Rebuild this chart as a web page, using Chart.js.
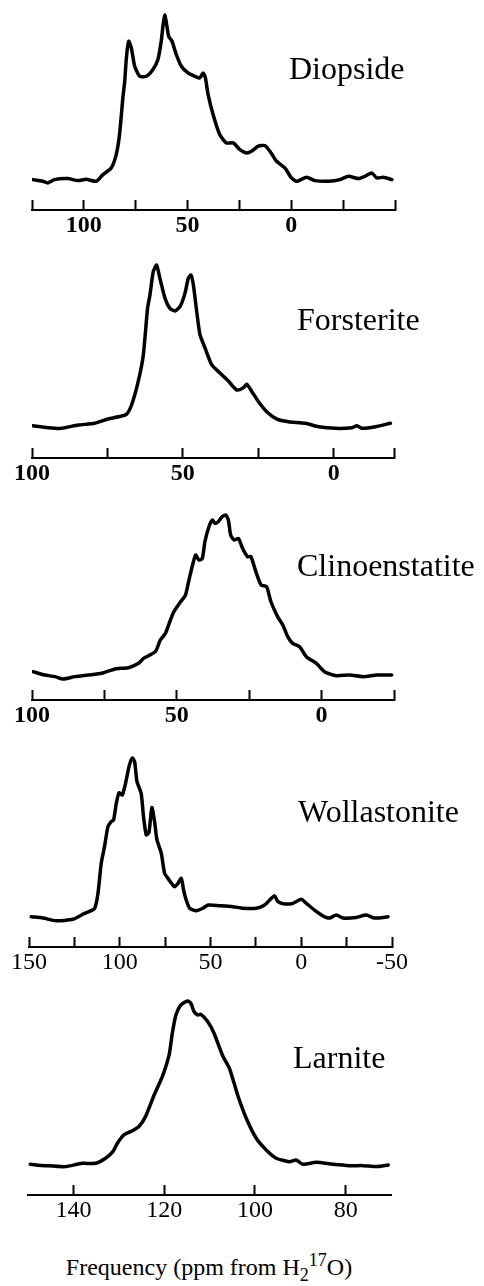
<!DOCTYPE html>
<html>
<head>
<meta charset="utf-8">
<script src="https://cdn.jsdelivr.net/npm/chart.js@4.4.0/dist/chart.umd.min.js"></script>
<style>
html,body{margin:0;padding:0;background:#fff}
#wrap{position:relative;width:484px;height:1286px;overflow:hidden}
#wrap canvas{position:absolute;left:0}
.name{position:absolute;font:32px/32px 'Liberation Serif','Times New Roman',serif;color:#000;white-space:nowrap}
#xtitle{position:absolute;left:0;width:418px;top:1255px;text-align:center;font:24px/24px 'Liberation Serif','Times New Roman',serif;color:#000;white-space:nowrap}
#xtitle .sb{font-size:18px;position:relative;top:6px}
#xtitle .sp{font-size:18px;position:relative;top:-9px}
</style>
</head>
<body>
<div id="wrap">
  <canvas id="c1"></canvas>
  <canvas id="c2"></canvas>
  <canvas id="c3"></canvas>
  <canvas id="c4"></canvas>
  <canvas id="c5"></canvas>
  <div class="name" style="left:289px;top:52px">Diopside</div>
  <div class="name" style="left:297px;top:303px">Forsterite</div>
  <div class="name" style="left:297px;top:549px">Clinoenstatite</div>
  <div class="name" style="left:298px;top:795px">Wollastonite</div>
  <div class="name" style="left:293px;top:1041px">Larnite</div>
  <div id="xtitle">Frequency (ppm from H<span class="sb">2</span><span class="sp">17</span>O)</div>
</div>
<script>
const SERIF="'Liberation Serif','Times New Roman',serif";

// ── 17O spectra: shift (ppm) and relative intensity (baseline 0, top peak 100) ──
const DIOPSIDE_PPM=[124.6,119.8,117.4,114.2,107.7,102.9,98.9,94,90.8,86.8,84.4,82.8,81.2,80.3,79.5,78.4,77.1,75.5,73.1,69.9,66.7,64.3,62.7,61.8,61,60.2,59.1,57.5,55.4,53,49.8,46.5,44.1,42.5,41.4,40.1,37.7,34.5,31.3,28,24.8,21.6,19.2,15.9,12.7,10.3,7.1,3.1,-0.1,-2.6,-7.4,-11.4,-17.9,-23.5,-27.5,-32.4,-35.6,-38.8,-41.2,-44.4,-48.5];
const DIOPSIDE_INT=[1.4,0.4,-0.6,1.4,2,0.8,1.6,0.4,4.4,8.4,16.4,28.4,50.3,60.3,74.3,84.3,80.2,69.3,63.3,63.3,67.4,73.4,84.3,94.2,100,95.2,87.2,84.3,76.2,69.3,65.3,63.3,62.3,65.3,62.3,52.3,40.4,28.4,23.4,23.4,19.4,17.4,18.4,21.4,21.8,18.4,12.4,8.4,2.4,0.4,2.8,0.8,0.4,1.4,3.4,2,3.4,5.4,2.4,2.8,1.4];

const FORSTERITE_PPM=[99.7,94.7,90.3,84.7,79.2,74.8,71.4,68.7,67,64.8,63.1,61.7,60.9,59.8,58.7,57.6,55.9,54.3,52.6,50.9,49.3,48.2,47.3,46.5,45.4,44.3,42.6,40.4,37.6,34.9,32.1,29.9,28.8,27.1,24.9,22.2,18.8,15,9.4,5,-0.6,-6.1,-7.7,-9.4,-13.9,-18.8];
const FORSTERITE_INT=[1.4,0.2,-0.2,1.8,2.9,5.5,6.9,8.4,14.1,28.4,44.8,73.4,81.6,95.9,100,91.8,79.6,73.4,71.8,74.6,82.6,91.8,93.9,87.7,71.4,57.1,48.9,38.7,33.6,28.8,23.3,24.7,26.8,22.3,16.1,10,5.5,3.9,2.9,0.8,-0.2,0.2,1.4,-0.2,0.8,2.9];

const CLINOENSTATITE_PPM=[99.7,95.6,92.1,89.2,85.2,80.6,75.9,71.3,66.7,63.2,61.5,57.4,55.7,53.9,52.2,51,48.7,47,45.8,44.7,43.5,42.4,41.2,40.3,38.9,37.7,36.8,35.7,34.3,33.1,32.2,31.4,30.2,28.7,27.3,25.6,24.4,22.7,20.9,19,17.5,15.2,13.4,11.7,10,7.6,5.3,1.8,-1,-5.1,-9.7,-14.3,-19,-24.2];
const CLINOENSTATITE_INT=[2.1,0,-1,-2.5,-1,0,1.1,3.8,4.6,7.3,10.4,14.6,21.9,26.1,34.4,39.6,45.8,50,59.4,67.7,75,71.9,72.9,83.3,92.7,96.9,94.8,95.8,99,100,96.9,87.5,84.4,85.4,79.2,74,74,64.6,56.3,55.2,45.8,36.5,31.3,24,19.8,17.7,11.5,7.3,2.1,-0.4,0,-1,0,0];

const WOLLASTONITE_PPM=[148.8,142.3,135,125.8,119.4,113.9,112,110.2,108.4,106.5,104.7,103.4,101.9,100.4,98.6,96.8,94.9,93.1,91.8,90.5,88.2,86.9,85.4,83.9,82.3,80.8,79.5,77.1,75.3,73.4,69.8,67.9,66.1,64.8,63.4,61.5,57.9,54.2,51.4,45,37.6,32.1,24.8,20.2,16.5,14.7,12.8,9.2,4.6,0,-2.8,-7.3,-12.8,-15.6,-19.3,-23,-30.3,-35.8,-40.4,-47.8];
const WOLLASTONITE_INT=[0.8,0,-1.7,-0.8,2.9,6,15.4,34.2,44.6,57.1,60.2,61.3,71.7,78.3,76.9,84.2,94.6,100,97.7,85.2,77.9,63.3,52,53.5,69,60.2,48.8,40.4,27.9,24.8,19.6,21.7,24.8,17.5,11.3,6.1,4.6,6.1,8.1,7.7,7.1,6.1,6.1,8.1,12.3,13.9,10.2,8.8,9.2,11.7,9.2,5,0.8,0,1.9,0,0.4,1.9,0,0.8];

const LARNITE_PPM=[149.5,146.2,141.8,138.1,135.1,132.9,131.3,130.3,128.9,127.4,125.6,124.1,122.2,120.4,118.9,118.2,117.4,116.3,114.8,114.1,113.4,112.6,111.9,110.4,109,107.1,105.6,103.8,101.9,99.7,97.5,95.3,92.4,90.9,89.4,86.5,82.8,79.1,76.1,73.2,70.6];
const LARNITE_INT=[1,0.2,-0.4,1.6,1.6,4.7,8.7,13.8,18.8,20.8,23.8,29.9,43,54.1,67.3,80.4,91.5,97.6,100,98.6,93.5,91.5,91.9,87.5,80.4,66.8,59.2,43,28.9,16.8,9.7,4.7,2.6,3.6,1,2.2,1,0.2,0.2,-0.4,0.6];

// ── axis ticks (ppm) and which of them carry a number ──
const DIOPSIDE_TICKS=[125,100,75,50,25,0,-25,-50];
const DIOPSIDE_LABELS=[100,50,0];
const FORSTERITE_TICKS=[100,75,50,25,0,-20];
const FORSTERITE_LABELS=[100,50,0];
const CLINOENSTATITE_TICKS=[100,75,50,25,0,-25];
const CLINOENSTATITE_LABELS=[100,50,0];
const WOLLASTONITE_TICKS=[150,125,100,75,50,25,0,-25,-50];
const WOLLASTONITE_LABELS=[150,100,50,0,-50];
const LARNITE_TICKS=[140,120,100,80];
const LARNITE_LABELS=[140,120,100,80];

// panel layout: canvas top/height, plot left/right inset, y window, label weight
const PANELS=[
  {id:'c1',ppm:DIOPSIDE_PPM,int:DIOPSIDE_INT,ticks:DIOPSIDE_TICKS,labels:DIOPSIDE_LABELS,xmin:-50,xmax:125,top:4,h:236,left:32,right:89,ymin:-16.8,ymax:106.6,weight:'bold'},
  {id:'c2',ppm:FORSTERITE_PPM,int:FORSTERITE_INT,ticks:FORSTERITE_TICKS,labels:FORSTERITE_LABELS,xmin:-20,xmax:100,top:244,h:244,left:32,right:90,ymin:-18.4,ymax:112.9,weight:'bold'},
  {id:'c3',ppm:CLINOENSTATITE_PPM,int:CLINOENSTATITE_INT,ticks:CLINOENSTATITE_TICKS,labels:CLINOENSTATITE_LABELS,xmin:-25,xmax:100,top:492,h:238,left:32,right:90,ymin:-15.6,ymax:114.4,weight:'bold'},
  {id:'c4',ppm:WOLLASTONITE_PPM,int:WOLLASTONITE_INT,ticks:WOLLASTONITE_TICKS,labels:WOLLASTONITE_LABELS,xmin:-50,xmax:150,top:736,h:241,left:29,right:92,ymin:-18.1,ymax:113.75,weight:'normal'},
  {id:'c5',ppm:LARNITE_PPM,int:LARNITE_INT,ticks:LARNITE_TICKS,labels:LARNITE_LABELS,xmin:70,xmax:150,top:982,h:243,left:28,right:93,ymin:-17.6,ymax:111.5,weight:'normal'}
];

function drawPanel(p){
  const el=document.getElementById(p.id);
  el.width=484; el.height=p.h; el.style.top=p.top+'px';
  new Chart(el,{
    type:'line',
    data:{datasets:[{
      data:p.ppm.map((x,i)=>({x,y:p.int[i]})),
      borderColor:'#000',borderWidth:3.5,pointRadius:0,tension:0.2,fill:false,
      borderJoinStyle:'round',borderCapStyle:'round'
    }]},
    options:{
      responsive:false,animation:false,events:[],
      layout:{padding:{left:p.left,right:p.right,top:0,bottom:0}},
      plugins:{legend:{display:false},tooltip:{enabled:false}},
      scales:{
        x:{type:'linear',reverse:true,min:p.xmin,max:p.xmax,
          afterBuildTicks:s=>{s.ticks=p.ticks.map(v=>({value:v}))},
          afterFit:s=>{s.height=30},
          border:{display:true,color:'#000',width:2},
          // ticks point up from the axis line
          grid:{drawOnChartArea:false,drawTicks:true,tickLength:-10,tickColor:'#000',tickWidth:2},
          ticks:{autoSkip:false,maxRotation:0,padding:11,color:'#000',
            font:{family:SERIF,size:24,weight:p.weight},
            callback:v=>p.labels.includes(v)?String(v):''}
        },
        y:{display:false,min:p.ymin,max:p.ymax}
      }
    }
  });
}

PANELS.forEach(drawPanel);
</script>
</body>
</html>
